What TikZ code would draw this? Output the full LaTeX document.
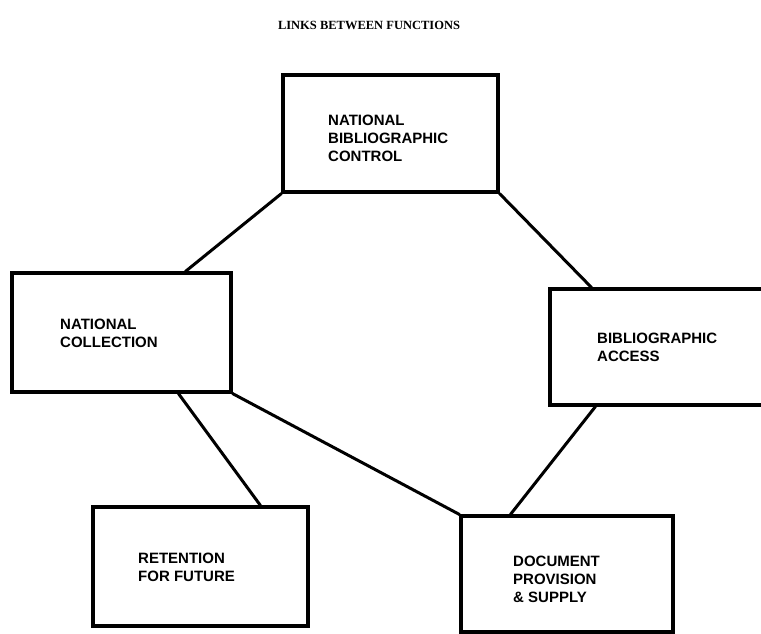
\documentclass[tikz,border=0pt]{standalone}
\usepackage{fontspec}
\setmainfont{Liberation Sans}
\newfontfamily\titlefont{Liberation Serif}
\usetikzlibrary{calc}
\begin{document}
\begin{tikzpicture}[x=1pt,y=-1pt,
  funcbox/.style={draw, line width=3.1pt, inner sep=0pt, minimum width=#1},
  boxtext/.style={anchor=north west, inner sep=0pt, align=left,
    font=\fontsize{15}{18}\selectfont\bfseries},
  link/.style={line width=3pt, line cap=round}]
\useasboundingbox (0,0) rectangle (761,633);
\begin{scope}
\clip (0,0) rectangle (761,633);
% title
\node[anchor=base, inner sep=0pt, font=\titlefont\fontsize{12.5}{14}\selectfont\bfseries] (title) at (369,29) {LINKS BETWEEN FUNCTIONS};
% boxes
\node[funcbox=215pt, minimum height=117pt] (nbc) at (390.5,133.5) {};
\node[funcbox=219pt, minimum height=119pt] (nc) at (121.5,332.5) {};
\node[funcbox=235pt, minimum height=116pt] (ba) at (667.5,347) {};
\node[funcbox=215pt, minimum height=119pt] (rf) at (200.5,566.5) {};
\node[funcbox=212pt, minimum height=116pt] (dp) at (567,574) {};
% texts
\node[boxtext] (nbct) at (328,115) {NATIONAL\\BIBLIOGRAPHIC\\CONTROL};
\node[boxtext] (nct) at (60,319) {NATIONAL\\COLLECTION};
\node[boxtext] (bat) at (597,333) {BIBLIOGRAPHIC\\ACCESS};
\node[boxtext] (rft) at (138,553) {RETENTION\\FOR FUTURE};
\node[boxtext] (dpt) at (513,556) {DOCUMENT\\PROVISION\\\& SUPPLY};
% links
\draw[link] (nbc.south west) -- ($(nc.north west)+(175,0)$);
\draw[link] (nbc.south east) -- ($(ba.north west)+(43,0)$);
\draw[link] ($(nc.south west)+(168,0)$) -- ($(rf.north west)+(169,0)$);
\draw[link] (nc.south east) -- (dp.north west);
\draw[link] ($(ba.south west)+(47,0)$) -- ($(dp.north west)+(51,0)$);
\end{scope}
\end{tikzpicture}
\end{document}
